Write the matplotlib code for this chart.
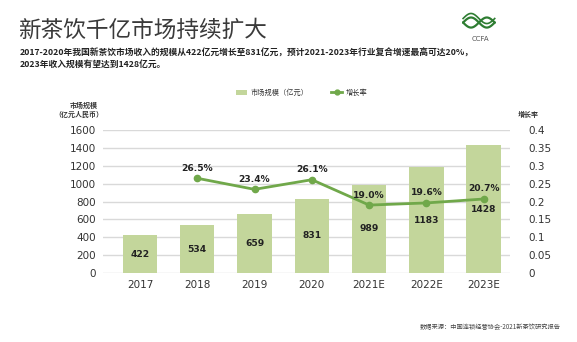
import matplotlib
matplotlib.use("Agg")
import matplotlib.pyplot as plt
import numpy as np
from matplotlib.lines import Line2D
from matplotlib.patches import Patch

plt.rcParams['font.family'] = ['Noto Sans CJK SC', 'DejaVu Sans']

years = ["2017", "2018", "2019", "2020", "2021E", "2022E", "2023E"]
market = [422, 534, 659, 831, 989, 1183, 1428]
growth_years = ["2018", "2019", "2020", "2021E", "2022E", "2023E"]
growth = [0.265, 0.234, 0.261, 0.190, 0.196, 0.207]
growth_labels = ["26.5%", "23.4%", "26.1%", "19.0%", "19.6%", "20.7%"]
left_ticks = [0, 200, 400, 600, 800, 1000, 1200, 1400, 1600]
right_ticks = [0, 0.05, 0.1, 0.15, 0.2, 0.25, 0.3, 0.35, 0.4]

bar_color = "#c3d69b"
line_color = "#70a84a"
text_color = "#222222"
tick_color = "#333333"
num_font = ['DejaVu Sans']

fig = plt.figure(figsize=(5.77, 3.42), dpi=100)
fig.patch.set_facecolor("white")
ax = fig.add_axes([0.1785, 0.2018, 0.7054, 0.418])
x = list(range(len(years)))
ax.bar(x, market, width=0.6, color=bar_color, zorder=2)
ax.set_ylim(0, 1600)
ax.set_xlim(-0.646, 6.46)
ax.set_yticks(left_ticks)
ax.set_yticklabels([str(t) for t in left_ticks], family=num_font)
ax.set_xticks(x)
ax.set_xticklabels(years, family=num_font)
ax.grid(axis="y", color="#d9d9d9", linewidth=1.0, zorder=0)
for s in ax.spines.values():
    s.set_visible(False)
ax.tick_params(axis="both", length=0, labelsize=7.5, colors=tick_color)
ax.tick_params(axis="y", pad=5)
ax.tick_params(axis="x", pad=5)
for xi, v in zip(x, market):
    ax.text(xi, v / 2, str(v), ha="center", va="center", fontsize=6.6,
            fontweight="bold", color=text_color, zorder=4, family=num_font)

ax2 = ax.twinx()
ax2.set_ylim(0, 0.4)
ax2.set_yticks(right_ticks)
ax2.set_yticklabels([("%g" % t) for t in right_ticks], family=num_font)
for s in ax2.spines.values():
    s.set_visible(False)
ax2.tick_params(axis="y", length=0, labelsize=7.5, colors=tick_color, pad=13)
gx = [years.index(g) for g in growth_years]
ax2.plot(gx, growth, color=line_color, linewidth=2, marker="o", markersize=4.5, zorder=5)
for xi, v, lab in zip(gx, growth, growth_labels):
    ax2.text(xi, v + 0.028, lab, ha="center", va="center", fontsize=6.6,
             fontweight="bold", color=text_color, zorder=6, family=num_font)

# axis titles
fig.text(0.146, 0.693, "市场规模", ha="center", va="center", fontsize=5, color=tick_color, fontweight="bold")
fig.text(0.136, 0.666, "（亿元人民币）", ha="center", va="center", fontsize=5, color=tick_color, fontweight="bold")
fig.text(0.915, 0.666, "增长率", ha="center", va="center", fontsize=5, color=tick_color, fontweight="bold")

# legend
handles = [Patch(facecolor=bar_color, edgecolor="none"),
           Line2D([0], [0], color=line_color, linewidth=2, marker="o", markersize=3.5)]
fig.legend(handles, ["市场规模（亿元）", "增长率"], loc="center", bbox_to_anchor=(0.523, 0.728),
           ncol=2, frameon=False, fontsize=5.2, columnspacing=3.2, handlelength=1.5,
           handleheight=0.8, handletextpad=0.5, labelcolor=tick_color)

# title and subtitle
fig.text(0.031, 0.912, "新茶饮千亿市场持续扩大", ha="left", va="center", fontsize=16.3, color="#3a3a3a")
fig.text(0.034, 0.845, "2017-2020年我国新茶饮市场收入的规模从422亿元增长至831亿元，预计2021-2023年行业复合增速最高可达20%，",
         ha="left", va="center", fontsize=6.3, fontweight="bold", color="#222222")
fig.text(0.034, 0.812, "2023年收入规模有望达到1428亿元。",
         ha="left", va="center", fontsize=6.3, fontweight="bold", color="#222222")

# logo (decorative mark + text)
lax = fig.add_axes([0.8, 0.915, 0.06, 0.05])
lax.axis("off")
t = np.linspace(0, 2 * np.pi, 60)
lax.plot(t, np.sin(t), color="#2e7d32", linewidth=1.6)
lax.plot(t, -np.sin(t), color="#2e7d32", linewidth=1.6)
lax.plot(t, np.sin(t) + 0.8, color="#2e7d32", linewidth=1.2)
lax.set_xlim(-0.3, 2 * np.pi + 0.3)
lax.set_ylim(-1.3, 2.1)
fig.text(0.832, 0.885, "CCFA", ha="center", va="center", fontsize=5, color="#555555", family=num_font)

# source
fig.text(0.972, 0.044, "数据来源：中国连锁经营协会-2021新茶饮研究报告", ha="right", va="center",
         fontsize=4.5, color="#444444")

fig.savefig("out.png", dpi=100, facecolor="white")
